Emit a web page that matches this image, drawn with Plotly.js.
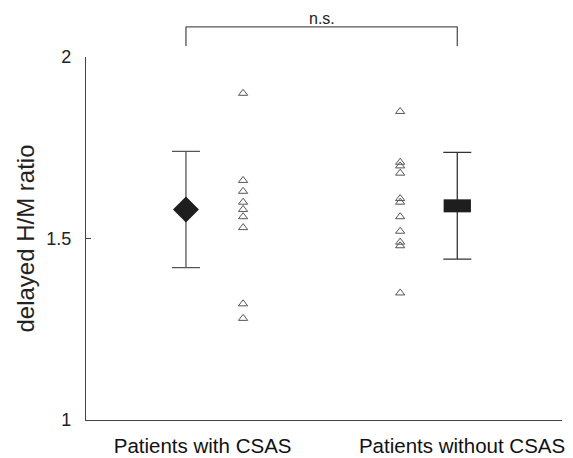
<!DOCTYPE html>
<html>
<head>
<meta charset="utf-8">
<script src="https://cdn.plot.ly/plotly-3.0.1.min.js"></script>
<style>html,body{margin:0;padding:0;background:#fff;}#chart{width:573px;height:458px;}</style>
</head>
<body>
<div id="chart"></div>
<script>
// Group labels and their x positions on the axis
var groupLabels = ['Patients with CSAS', 'Patients without CSAS'];
var labelX = [2.45, 7.9];
// Mean ± SD positions
var meanX = [2.1, 7.8];
var meanValues = [1.58, 1.59];
var sdValues = [0.16, 0.147];
// Individual patients
var pointX = [3.3, 6.6];
var withCSAS = [1.90, 1.66, 1.63, 1.60, 1.58, 1.56, 1.53, 1.32, 1.28];
var withoutCSAS = [1.85, 1.71, 1.70, 1.68, 1.61, 1.60, 1.56, 1.52, 1.49, 1.48, 1.35];
var yTicks = [1, 1.5, 2];
var yTickText = ['1', '1.5', '2'];
var sigLabel = 'n.s.';

function repeat(v, n) { var a = []; for (var i = 0; i < n; i++) a.push(v); return a; }

var traces = [
  {
    x: [meanX[0]], y: [meanValues[0]], type: 'scatter', mode: 'markers',
    marker: {symbol: 'diamond', size: 20, color: '#1e1e1e', line: {width: 0}},
    error_y: {type: 'data', array: [sdValues[0]], visible: true, color: '#555', thickness: 1.3, width: 14},
    showlegend: false, hoverinfo: 'skip'
  },
  {
    x: [meanX[1]], y: [meanValues[1]], type: 'scatter', mode: 'markers',
    marker: {symbol: 'line-ew', size: 19.5, color: '#1e1e1e', line: {width: 13, color: '#1e1e1e'}},
    error_y: {type: 'data', array: [sdValues[1]], visible: true, color: '#333', thickness: 1.3, width: 14},
    showlegend: false, hoverinfo: 'skip'
  },
  {
    x: repeat(pointX[0], withCSAS.length), y: withCSAS, type: 'scatter', mode: 'markers',
    marker: {symbol: 'triangle-up-open', size: 8, color: '#555', line: {width: 1, color: '#555'}},
    showlegend: false, hoverinfo: 'skip'
  },
  {
    x: repeat(pointX[1], withoutCSAS.length), y: withoutCSAS, type: 'scatter', mode: 'markers',
    marker: {symbol: 'triangle-up-open', size: 8, color: '#555', line: {width: 1, color: '#555'}},
    showlegend: false, hoverinfo: 'skip'
  }
];

var bracketTop = 1.083, bracketEnd = 1.03;
var layout = {
  width: 573, height: 458,
  margin: {l: 86, r: 11, t: 57, b: 38},
  paper_bgcolor: '#fff', plot_bgcolor: '#fff',
  font: {family: 'Liberation Sans, Arial, sans-serif', color: '#222'},
  xaxis: {
    range: [0, 10], showgrid: false, zeroline: false, showline: true,
    linecolor: '#444', linewidth: 1.2, ticks: '',
    tickmode: 'array', tickvals: labelX, ticktext: groupLabels,
    tickfont: {size: 20.5, color: '#111'}, ticklabelstandoff: 7
  },
  yaxis: {
    range: [1, 2], showgrid: false, zeroline: false, showline: true,
    linecolor: '#444', linewidth: 1.2, ticks: 'inside', ticklen: 5, tickcolor: '#444',
    tickmode: 'array', tickvals: yTicks, ticktext: yTickText,
    tickfont: {size: 18, color: '#222'}, ticklabelstandoff: 10,
    title: {text: 'delayed H/M ratio', font: {size: 24, color: '#222'}, standoff: 4}
  },
  shapes: [
    {type: 'line', xref: 'x', yref: 'paper', x0: meanX[0], x1: meanX[1], y0: bracketTop, y1: bracketTop, line: {color: '#555', width: 1.2}},
    {type: 'line', xref: 'x', yref: 'paper', x0: meanX[0], x1: meanX[0], y0: bracketTop, y1: bracketEnd, line: {color: '#444', width: 1.2}},
    {type: 'line', xref: 'x', yref: 'paper', x0: meanX[1], x1: meanX[1], y0: bracketTop, y1: bracketEnd, line: {color: '#444', width: 1.2}}
  ],
  annotations: [
    {text: sigLabel, xref: 'x', yref: 'paper', x: (meanX[0] + meanX[1]) / 2, y: bracketTop, yanchor: 'bottom', showarrow: false, font: {size: 16, color: '#222'}, yshift: -2}
  ]
};

Plotly.newPlot('chart', traces, layout, {staticPlot: true, displayModeBar: false});
</script>
</body>
</html>
